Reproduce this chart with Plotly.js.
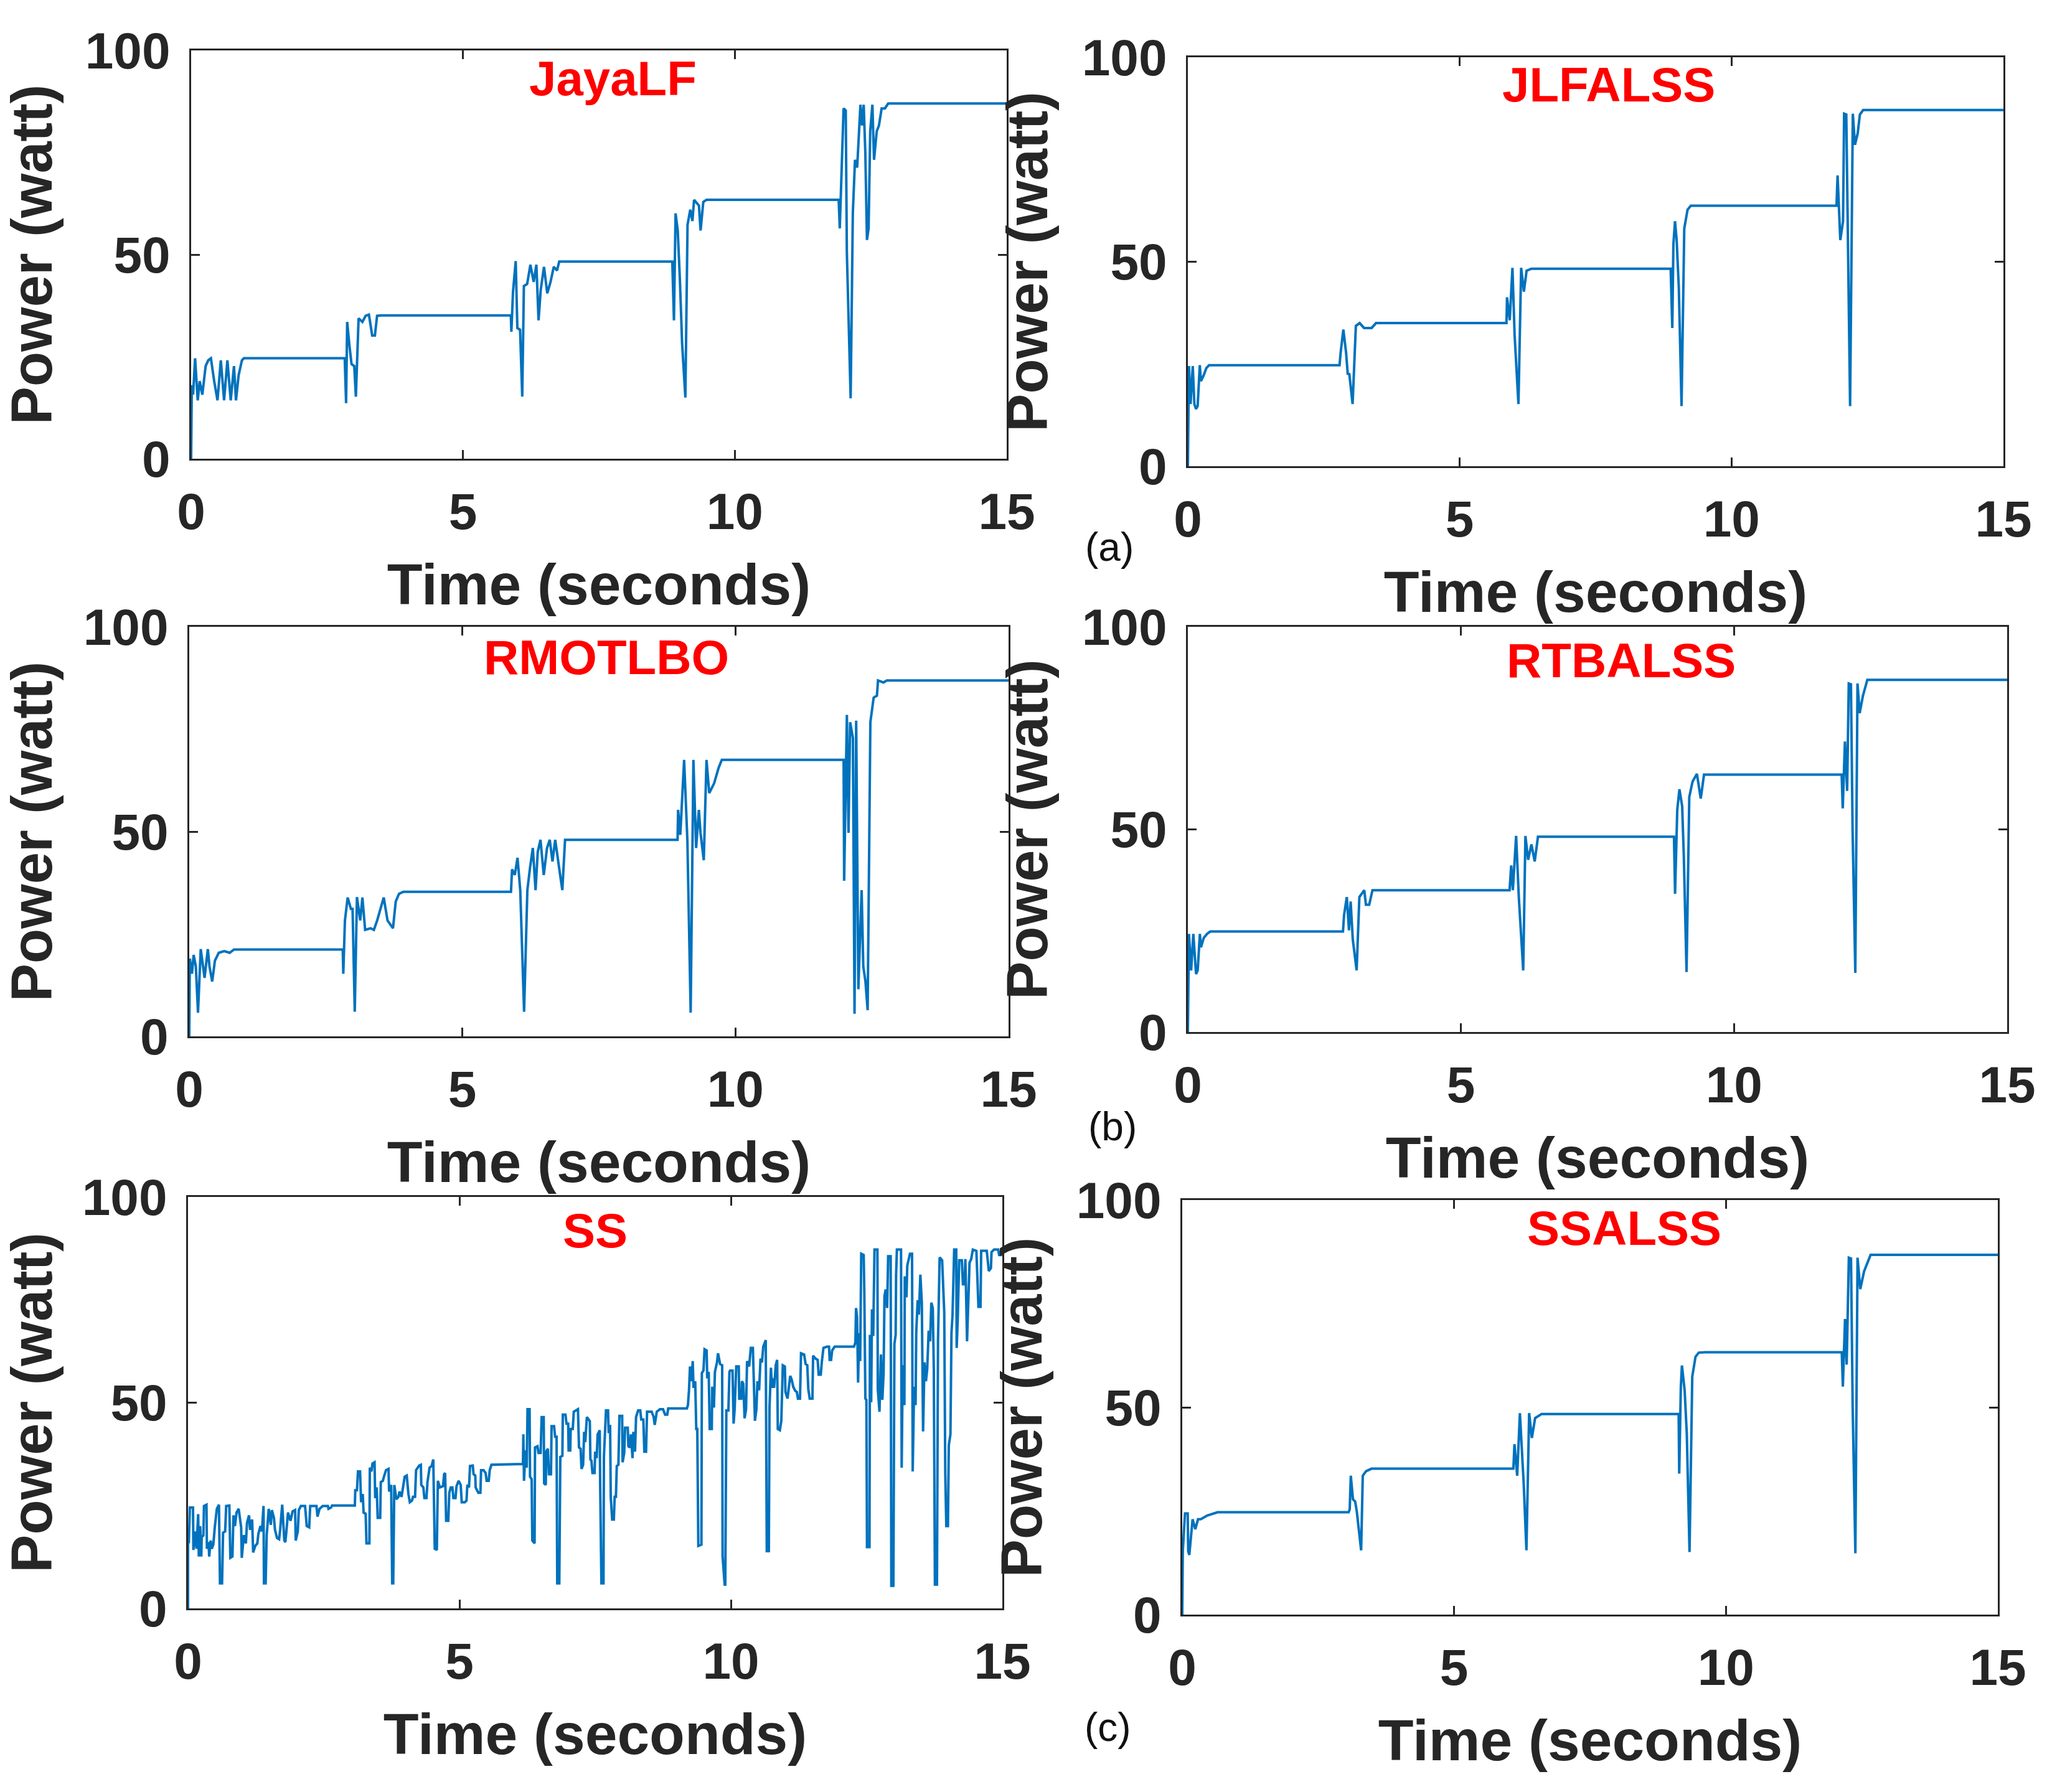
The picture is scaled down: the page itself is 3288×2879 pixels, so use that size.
<!DOCTYPE html>
<html><head><meta charset="utf-8">
<script src="https://cdn.plot.ly/plotly-3.0.1.min.js"></script>
<style>html,body{margin:0;padding:0;background:#fff;} #chart{width:3288px;height:2879px;}</style>
</head><body><div id="chart"></div>
<script>
// ---------------- data (time in seconds, power in watt) ----------------
const jayaT = [0,0.012,0.036,0.073,0.121,0.158,0.206,0.267,0.315,0.364,0.424,0.485,0.546,0.606,0.667,0.728,0.788,0.825,0.873,0.934,0.970,
  2.825,2.85,2.87,2.91,2.95,3.00,3.03,3.08,3.15,3.21,3.27,3.33,3.38,3.42,3.49,
  5.88,5.89,5.92,5.97,6.00,6.05,6.09,6.12,6.18,6.24,6.30,6.35,6.39,6.43,6.49,6.55,6.61,6.67,6.73,6.77,
  8.85,8.88,8.91,8.95,8.99,9.03,9.09,9.13,9.18,9.22,9.25,9.34,9.37,9.42,9.48,
  11.91,11.93,11.96,12.00,12.04,12.06,12.13,12.17,12.21,12.25,12.31,12.34,12.37,12.40,12.43,12.46,12.49,12.53,12.56,12.61,12.65,12.70,12.76,12.82,15];
const jayaP = [0,18,15.7,24.6,14.3,19,15.7,22.7,24.1,24.6,19,14.3,24.1,14.3,24.1,14.3,22.7,14.3,20.4,24.1,24.6,
  24.6,13.6,33.5,27.9,23.2,22.7,15.2,34.4,33.5,35,35.3,30.2,30.2,35,35.1,
  35.1,31.1,40.9,48.4,32,31.6,15.2,42.3,42.8,47.5,43.3,47.5,33.9,41.4,47,40.5,43.3,47,46.1,48.3,
  48.3,33.9,60.1,55.9,43.7,28.3,15.0,57.3,61,58.2,63.4,62,55.9,62.9,63.4,
  63.4,56.4,68.5,85.8,85.3,50.7,14.8,60.1,73.2,71.3,86.7,81.6,86.7,75,53.6,56.4,80.2,86.7,73.2,80.2,81.6,85.8,85.8,87,87];

const jlfT = [0,0.02,0.05,0.09,0.12,0.15,0.18,0.22,0.24,0.29,0.34,0.39,
  2.79,2.81,2.86,2.91,2.94,2.97,3.03,3.09,3.16,3.24,3.38,3.46,
  5.86,5.87,5.92,5.97,6.01,6.08,6.13,6.18,6.23,6.32,
  8.88,8.91,8.93,8.96,8.99,9.03,9.08,9.13,9.19,9.25,9.37,
  11.93,11.95,12.00,12.05,12.07,12.11,12.14,12.18,12.23,12.27,12.32,12.36,12.42,15];
const jlfP = [0,24.5,15.2,24.5,15.2,14,14.7,24.7,20.8,22.2,24,24.7,
  24.7,27.8,33.4,27.8,22.6,22.5,15.2,34.3,35,33.8,33.8,35,
  35,41.3,35.7,48.5,32,15.2,48.5,42.7,47.8,48.3,
  48.3,33.8,54.3,59.9,55.3,43.6,14.7,58.1,62.7,63.7,63.7,
  63.7,71.1,55.3,59.9,86.2,86,50.6,14.7,86.2,78.6,81.4,86,87.1,87.1];

const rmoT = [0,0.01,0.05,0.08,0.12,0.16,0.21,0.25,0.28,0.34,0.37,0.42,0.47,0.54,0.64,0.74,0.82,
  2.81,2.82,2.85,2.90,2.96,2.99,3.03,3.07,3.13,3.17,3.22,3.32,3.38,3.44,3.56,3.63,3.73,3.78,3.84,3.92,4.02,
  5.89,5.91,5.96,6.01,6.06,6.13,6.19,6.24,6.29,6.34,6.38,6.43,6.49,6.55,6.60,6.65,6.70,6.77,6.83,6.88,6.91,
  8.94,8.95,8.99,9.06,9.12,9.18,9.23,9.28,9.33,9.36,9.42,9.47,9.52,9.61,9.69,9.75,
  11.98,11.99,12.04,12.07,12.10,12.15,12.18,12.21,12.25,12.31,12.34,12.38,12.42,12.47,12.53,12.59,12.61,12.71,12.77,15];
const rmoP = [0,19,15.3,19.9,17.1,5.8,21.3,16.7,14.3,21.3,17.1,13.4,18.5,20.4,20.8,20.4,21.2,
  21.2,15.3,28.3,33.9,31.1,31.1,6,34,28.3,33.9,26,26.4,26,28.3,33.9,28.3,26.4,32.9,34.8,35.3,35.3,
  35.3,40.8,39.4,43.6,35.7,6,35.7,41.3,46,35.7,45,48,39.4,46,48,42.7,48,41.3,35.7,48,48,
  48,55.3,49.2,67.5,47.8,5.8,67.5,46,55.3,49.7,43,67.5,59.4,61.8,65.5,67.5,
  67.5,38,78.5,49.7,76.7,72.9,5.5,77.1,11.5,35.7,17.1,13.4,6.4,76.7,82.7,83.2,86.9,86.4,86.9,86.9];

const rtbT = [0,0.02,0.06,0.10,0.15,0.18,0.22,0.24,0.29,0.35,0.41,
  2.84,2.86,2.91,2.95,2.98,3.02,3.09,3.14,3.23,3.26,3.32,3.38,
  5.89,5.92,5.95,6.01,6.06,6.14,6.18,6.23,6.29,6.35,6.41,
  8.90,8.92,8.96,9.00,9.05,9.08,9.13,9.18,9.24,9.32,9.39,9.45,
  11.97,11.99,12.03,12.07,12.10,12.14,12.17,12.22,12.26,12.30,12.36,12.44,15];
const rtbP = [0,24.2,15.2,24.2,14.3,15.2,24.2,20.9,23.2,24.2,24.8,
  24.8,28.9,33.3,25.1,32.2,22.8,15.2,33.3,35,31.4,31.4,35,
  35,41.1,35,48.4,33.1,15.2,48.4,42.5,46.3,42.1,48.2,
  48.2,34.1,54.8,59.9,55.7,43.5,14.8,58,61.8,63.7,57.6,63.5,
  63.5,55.2,71.7,59.5,86,85.8,50,14.6,86,78.7,83,86.9,86.9];

const ssT = [0,0,0.015,0.034,0.092,0.099,0.138,0.157,0.187,0.199,0.225,0.245,0.252,0.283,0.294,0.340,0.348,0.378,0.390,0.417,
  0.436,0.466,0.493,0.512,0.531,0.570,0.589,0.627,0.646,0.684,0.703,0.761,0.780,0.818,0.837,0.864,0.894,0.933,0.979,0.990,
  1.028,1.066,1.086,1.124,1.143,1.181,1.200,1.239,1.277,1.296,1.334,1.361,1.391,1.399,1.430,1.449,1.487,1.525,1.544,1.583,
  1.602,1.640,1.678,1.697,1.735,1.774,1.793,1.812,1.842,1.888,1.927,1.973,1.984,2.022,2.041,2.079,2.156,2.187,2.232,2.251,
  2.366,2.385,2.423,2.481,2.576,2.588,2.634,2.653,3.073,
  3.081,3.112,3.131,3.169,3.188,3.219,3.234,3.272,3.287,3.341,3.349,3.379,3.398,3.436,3.448,3.475,3.494,3.540,3.551,3.589,
  3.609,3.647,3.693,3.704,3.742,3.761,3.780,3.800,3.838,3.876,3.895,3.933,3.991,4.029,4.060,4.086,4.125,4.144,4.182,4.201,
  4.258,4.289,4.297,4.335,4.354,4.392,4.411,4.450,4.488,4.518,4.545,4.583,4.602,4.641,4.698,4.717,4.736,4.755,4.794,4.813,
  4.839,4.870,4.889,4.927,4.946,4.985,5.023,5.042,5.099,
  5.130,5.145,5.176,5.195,5.245,5.260,5.291,5.298,5.348,5.386,5.398,5.443,5.482,5.501,5.539,5.558,5.589,6.170,6.177,6.189,
  6.216,6.239,6.254,6.292,6.300,6.330,6.342,6.384,6.392,6.437,6.456,6.495,6.514,6.552,6.560,6.590,6.598,6.628,6.648,6.686,
  6.697,6.743,6.762,6.789,6.801,6.839,6.858,6.896,6.904,6.953,6.972,7.003,7.011,7.041,7.049,7.087,7.106,7.145,7.183,7.202,
  7.232,7.248,7.278,7.297,7.317,7.347,7.401,7.412,7.431,7.450,7.489,7.500,7.527,7.546,7.573,7.584,7.592,7.615,7.653,7.661,
  7.699,7.737,7.749,7.775,7.787,7.813,7.844,7.859,7.882,7.898,7.928,7.947,7.997,8.005,8.035,8.051,8.100,8.112,8.139,8.158,
  8.188,8.204,8.234,8.253,8.291,8.330,8.349,8.387,8.406,8.437,8.456,8.540,8.578,8.597,8.635,8.693,8.750,8.788,8.827,8.846,
  9.190,9.209,9.228,9.247,9.274,9.297,9.312,9.343,9.362,9.381,9.400,9.457,9.465,9.495,9.515,9.553,9.564,9.591,9.610,9.648,
  9.656,9.687,9.706,9.744,9.763,9.801,9.839,9.847,9.885,9.897,9.916,9.954,9.973,
  9.985,10.030,10.050,10.069,10.099,10.145,10.153,10.191,10.202,10.229,10.252,10.279,10.298,10.336,10.367,10.405,10.420,10.443,10.470,10.489,
  10.520,10.546,10.573,10.596,10.642,10.661,10.699,10.711,10.738,10.757,10.776,10.795,10.826,10.852,10.864,10.902,10.929,10.956,10.994,11.005,
  11.043,11.093,11.120,11.147,11.185,11.215,11.235,11.273,11.292,11.349,11.376,11.407,11.426,11.452,11.502,11.514,11.559,11.598,11.617,11.655,
  11.674,11.705,11.770,11.808,11.819,11.846,11.865,11.911,12.267,12.293,12.305,12.324,12.343,12.362,12.381,12.401,12.446,12.458,12.477,12.496,
  12.507,12.553,12.561,12.584,12.599,12.622,12.645,12.699,12.706,12.737,12.764,12.790,12.813,12.829,12.852,12.878,12.897,12.943,12.955,12.993,
  13.012,13.035,13.043,13.058,13.134,13.146,13.165,13.196,13.203,13.234,13.249,13.299,13.337,13.349,13.375,13.402,13.414,13.440,13.463,13.490,
  13.517,13.540,13.566,13.593,13.616,13.643,13.670,13.692,13.719,13.738,13.758,13.796,13.815,13.845,13.891,13.910,13.930,13.949,13.968,13.998,
  14.014,14.044,14.063,14.082,14.113,14.151,14.159,14.178,14.205,14.254,14.274,14.304,14.319,14.350,14.369,14.396,14.426,14.457,14.522,14.541,
  14.560,14.598,14.610,14.713,14.751,14.790,14.801,14.847,14.923,14.942,15.000];
const ssP = [0,19.1,15.8,24.5,24.5,14.2,18.7,14.5,22.9,12.6,20.0,12.6,17.4,17.7,24.9,25.2,14.5,16.1,12.6,16.5,
  14.5,15.5,19.7,21.6,24.2,25.2,6.1,6.1,18.4,18.7,24.9,25.0,12.3,12.6,22.6,20.0,23.3,24.2,19.7,12.3,
  17.8,15.8,20.7,22.6,19.1,21.6,13.6,15.2,15.8,18.1,20.0,18.7,24.9,6.1,6.1,17.8,24.2,20.3,23.9,22.0,
  19.1,17.1,16.8,19.1,25.2,16.5,16.1,18.7,23.3,21.3,23.6,23.9,16.5,18.7,23.9,24.9,24.9,20.0,19.7,24.9,
  24.9,22.3,24.2,24.9,24.9,24.2,24.5,25.0,25.0,
  28.7,28.7,33.3,33.3,25.8,27.8,23.3,23.0,15.8,15.8,34.2,33.3,35.2,35.5,26.8,29.4,22.0,22.0,30.7,31.0,
  32.0,33.6,33.9,28.4,30.0,6.1,6.1,30.0,26.5,27.1,28.4,27.1,32.0,32.3,27.8,25.8,26.2,27.1,27.1,33.6,
  34.7,34.9,30.0,29.4,26.8,26.8,30.7,34.2,34.6,36.2,14.5,14.2,31.0,29.4,29.7,32.6,32.9,21.3,21.3,28.1,
  29.4,29.4,26.8,26.8,29.7,31.0,30.0,25.8,25.8,
  26.2,30.0,29.4,34.6,34.7,32.6,32.3,29.4,28.1,28.1,33.6,33.6,32.9,31.0,31.0,33.6,34.9,35.1,42.3,31.0,
  38.4,34.2,48.4,48.4,32.0,31.4,16.5,15.8,39.1,39.4,37.8,37.8,46.5,46.5,30.4,30.0,38.1,38.8,32.6,32.6,
  44.3,44.3,41.7,41.7,6.1,6.1,36.8,37.1,47.1,47.1,44.9,44.9,38.4,38.4,43.6,43.6,47.8,48.1,48.4,39.1,
  38.8,33.9,34.9,42.9,40.4,46.5,45.5,36.2,35.9,32.9,32.9,38.1,36.5,42.3,42.9,43.3,30.0,6.1,6.1,36.8,
  48.1,48.1,42.6,44.6,27.1,21.6,21.6,27.1,27.1,34.6,34.9,46.8,46.8,35.5,37.8,43.9,43.9,39.4,39.1,42.3,
  36.5,42.9,38.1,46.5,48.1,48.1,45.9,45.9,38.1,38.1,47.8,47.8,46.5,44.6,47.8,48.4,48.4,47.1,47.1,48.6,
  48.6,49.4,53.0,58.8,55.2,60.1,53.6,55.2,43.6,43.6,15.2,15.5,57.2,57.8,63.0,62.7,55.9,57.5,43.6,43.6,
  53.9,48.8,57.5,59.8,62.0,59.4,59.1,12.6,5.8,5.8,48.1,48.1,57.5,
  57.8,57.8,44.9,48.4,58.8,58.8,51.0,51.0,55.2,54.6,46.2,48.4,60.1,58.8,63.3,63.3,54.6,45.6,48.4,55.2,
  53.0,60.7,59.8,63.6,65.2,13.9,13.9,48.8,58.5,53.6,55.9,53.6,59.1,60.4,43.6,43.3,45.6,59.1,58.8,52.6,
  51.0,56.5,55.6,53.9,52.9,52.6,51.0,51.0,62.0,61.7,59.4,59.1,53.3,51.0,51.0,61.4,60.7,60.4,56.8,56.8,
  59.8,63.3,63.6,63.6,60.4,60.4,62.7,63.6,63.6,64.6,73.0,70.8,54.9,66.9,60.1,86.2,85.9,76.6,51.0,50.7,
  14.9,14.9,66.5,50.1,72.7,66.2,87.2,87.2,53.3,47.8,61.7,50.7,57.2,75.9,77.5,73.0,85.6,85.6,5.5,5.5,
  64.3,66.5,81.1,87.2,87.2,34.2,59.1,49.4,80.7,75.6,83.3,86.2,86.2,33.3,53.9,49.4,66.9,74.9,71.4,81.1,
  74.3,43.0,59.8,55.2,58.1,67.5,64.9,74.3,73.0,58.1,5.8,5.8,64.9,85.3,84.6,78.5,72.0,32.6,20.0,20.0,
  39.7,42.3,66.9,71.1,87.2,87.2,63.3,70.1,84.6,84.6,78.8,78.8,84.9,64.9,72.4,84.0,84.9,87.2,86.9,78.5,
  73.3,73.3,86.9,86.9,82.0,82.7,86.6,87.2,87.2,85.9,85.9];

const ssaT = [0,0.01,0.05,0.10,0.11,0.13,0.19,0.24,0.29,0.34,0.46,0.58,0.65,
  3.06,3.08,3.10,3.14,3.18,3.21,3.29,3.32,3.38,3.48,
  6.09,6.11,6.16,6.21,6.28,6.33,6.38,6.43,6.49,6.61,
  9.13,9.14,9.17,9.19,9.24,9.28,9.33,9.38,9.44,9.50,9.62,
  12.13,12.15,12.19,12.22,12.26,12.30,12.33,12.38,12.42,12.47,12.54,12.66,15];
const ssaP = [0,15.3,24.4,24.4,15.3,14.4,23,20.6,23,23,23.9,24.4,24.7,
  24.7,25.4,33.5,27.8,27.3,24.9,15.5,33.5,34.6,35.2,
  35.2,41.1,33.5,48.6,31.6,15.5,48.6,42.6,47.4,48.4,
  48.4,34,55,60.1,54.1,43.5,15.1,57.4,62.2,63.2,63.3,
  63.3,55,71.3,60.3,86.1,85.9,50.4,14.8,86.1,78.5,82.8,86.8,86.8];

const panelNames = ['JayaLF','JLFALSS','RMOTLBO','RTBALSS','SS','SSALSS'];
const seriesT = [jayaT, jlfT, rmoT, rtbT, ssT, ssaT];
const seriesP = [jayaP, jlfP, rmoP, rtbP, ssP, ssaP];
const xTicks = [0,5,10,15];
const yTicks = [0,50,100];
const xTitle = 'Time (seconds)';
const yTitle = 'Power (watt)';
const subLabels = ['(a)','(b)','(c)'];

// ---------------- layout (pixels of the 3288x2879 page) ----------------
const W = 3288, H = 2879;
const boxes = [ // [left, top, right, bottom]
  [307, 81, 1617, 737],
  [1908, 92, 3218, 749],
  [304, 1007, 1620, 1665],
  [1908, 1007, 3224, 1658],
  [302, 1923, 1610, 2584],
  [1899, 1928, 3209, 2594]
];
const titlePos = [[985,126],[2584,136],[974,1056],[2604,1061],[956,1977],[2609,1973]];
const labelPos = [[1782,879],[1787,1810],[1780,2775]];

const FONT = 'Liberation Sans, Arial, Helvetica, sans-serif';
const INK = '#262626';

const traces = [];
const layout = {
  width: W, height: H,
  margin: {l:0, r:0, t:0, b:0},
  paper_bgcolor: '#ffffff', plot_bgcolor: '#ffffff',
  showlegend: false,
  annotations: []
};

for (let i = 0; i < 6; i++) {
  const k = i === 0 ? '' : String(i + 1);
  const [l, t, r, b] = boxes[i];
  traces.push({
    x: seriesT[i], y: seriesP[i], type: 'scatter', mode: 'lines',
    xaxis: 'x' + k, yaxis: 'y' + k,
    line: {color: '#0072BD', width: 4},
    hoverinfo: 'skip'
  });
  const common = {
    showgrid: false, zeroline: false,
    showline: true, linecolor: INK, linewidth: 3, mirror: 'ticks',
    ticks: 'inside', ticklen: 14, tickwidth: 3, tickcolor: INK,
    tickfont: {family: FONT, size: 82, color: INK, weight: 'bold'},
    automargin: false, fixedrange: true
  };
  layout['xaxis' + k] = Object.assign({}, common, {
    domain: [l / W, r / W], anchor: 'y' + k,
    range: [0, 15], tickmode: 'array', tickvals: xTicks, ticktext: xTicks.map(String),
    ticklabelstandoff: 12,
    title: {text: xTitle, font: {family: FONT, size: 93, color: INK, weight: 'bold'}, standoff: 40}
  });
  layout['yaxis' + k] = Object.assign({}, common, {
    domain: [1 - b / H, 1 - t / H], anchor: 'x' + k,
    range: [0, 100], tickmode: 'array', tickvals: yTicks, ticktext: yTicks.map(String),
    ticklabelstandoff: 14,
    title: {text: yTitle, font: {family: FONT, size: 92, color: INK, weight: 'bold'}, standoff: 25}
  });
  layout.annotations.push({
    text: panelNames[i], xref: 'paper', yref: 'paper',
    x: titlePos[i][0] / W, y: 1 - titlePos[i][1] / H,
    xanchor: 'center', yanchor: 'middle', showarrow: false,
    font: {family: FONT, size: 78, color: '#FF0000', weight: 'bold'}
  });
}
for (let j = 0; j < 3; j++) {
  layout.annotations.push({
    text: subLabels[j], xref: 'paper', yref: 'paper',
    x: labelPos[j][0] / W, y: 1 - labelPos[j][1] / H,
    xanchor: 'center', yanchor: 'middle', showarrow: false,
    font: {family: FONT, size: 64, color: '#111111'}
  });
}

Plotly.newPlot('chart', traces, layout, {displayModeBar: false, staticPlot: true});
</script>
</body></html>
